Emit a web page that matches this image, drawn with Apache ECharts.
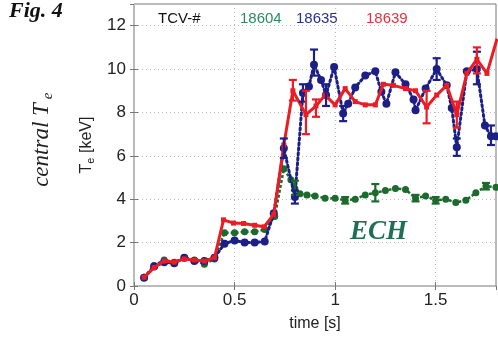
<!DOCTYPE html>
<html><head><meta charset="utf-8">
<script src="https://cdn.jsdelivr.net/npm/echarts@6/dist/echarts.min.js"></script>
<style>html,body{margin:0;padding:0;background:#fff}#c{width:498px;height:337px}</style>
</head><body><div id="c"></div>
<script>
// Shot 18604 (green)
var greenT = [0.05,0.1,0.15,0.2,0.25,0.3,0.35,0.4,0.45,0.5,0.55,0.6,0.65,0.7,0.745,0.78,0.8,0.825,0.86,0.9,0.95,1.0,1.05,1.1,1.15,1.2,1.25,1.3,1.35,1.4,1.45,1.5,1.55,1.6,1.65,1.7,1.75,1.8];
var greenV = [0.4,0.95,1.2,1.1,1.3,1.2,1.0,1.25,2.45,2.45,2.5,2.5,2.6,3.2,5.4,4.9,4.5,4.25,4.2,4.15,4.05,4.05,3.95,4.0,4.2,4.3,4.4,4.5,4.45,4.05,4.15,3.95,4.0,3.85,3.95,4.3,4.6,4.55];
var greenErrT = [0.8,1.05,1.2,1.4,1.5,1.75];
var greenErrLo = [4.2,3.8,3.9,3.9,3.8,4.45];
var greenErrHi = [4.85,4.1,4.7,4.2,4.1,4.75];
// Shot 18635 (blue)
var blueT = [0.05,0.1,0.15,0.2,0.25,0.3,0.35,0.4,0.45,0.5,0.55,0.6,0.65,0.695,0.745,0.8,0.84,0.87,0.895,0.93,0.955,0.995,1.04,1.065,1.1,1.15,1.2,1.23,1.255,1.3,1.35,1.39,1.4,1.45,1.505,1.555,1.58,1.605,1.655,1.705,1.745,1.775,1.8];
var blueV = [0.38,0.9,1.1,1.05,1.3,1.15,1.15,1.3,1.95,2.1,2.0,2.0,2.05,3.35,6.35,4.1,8.9,9.2,10.2,9.5,8.8,10.1,7.95,8.4,9.15,9.7,9.9,8.95,8.4,9.85,9.3,8.6,8.1,9.1,10.0,9.25,8.2,6.4,9.9,10.0,7.4,6.9,6.9];
var blueErrT = [0.745,0.8,0.84,0.895,0.955,1.04,1.505,1.605,1.705,1.775];
var blueErrLo = [5.9,3.8,8.5,9.7,8.3,7.6,9.5,6.0,9.3,6.5];
var blueErrHi = [6.8,4.4,9.3,10.9,9.3,8.3,10.5,6.8,10.8,7.4];
// Shot 18639 (red)
var redT = [0.05,0.1,0.15,0.2,0.25,0.3,0.35,0.4,0.445,0.495,0.545,0.6,0.647,0.695,0.745,0.79,0.855,0.905,0.95,1.0,1.05,1.1,1.15,1.2,1.24,1.29,1.35,1.4,1.455,1.505,1.555,1.605,1.655,1.705,1.755,1.805];
var redV = [0.4,0.85,1.15,1.1,1.25,1.2,1.15,1.3,3.05,2.9,2.88,2.8,2.73,3.3,6.5,9.0,7.9,8.3,8.8,8.35,9.1,8.5,8.35,8.35,9.3,9.25,9.1,9.0,8.25,8.8,9.25,7.9,9.8,10.45,9.8,11.4];
var redErrT = [0.79,0.855,0.905,1.455,1.605,1.705];
var redErrLo = [8.55,7.0,7.8,7.5,7.3,9.8];
var redErrHi = [9.5,9.0,8.6,9.0,8.5,11.0];
var xTicks = [0,0.5,1,1.5];
var yTicks = [0,2,4,6,8,10,12];

var C_GREEN = '#1c6a2c', C_BLUE = '#1b1f86', C_RED = '#ec1c24';
function pairs(t,v){return t.map(function(x,i){return [x,v[i]];});}
function errs(t,lo,hi){return t.map(function(x,i){return [x,lo[i],hi[i]];});}
function errSeries(data,color){
  return {type:'custom', clip:true, z:5, data:data, encode:{x:0,y:[1,2]},
    renderItem:function(params,api){
      var x=api.value(0), p1=api.coord([x,api.value(1)]), p2=api.coord([x,api.value(2)]), w=4;
      var st={stroke:color,lineWidth:2.2};
      return {type:'group',children:[
        {type:'line',shape:{x1:p1[0],y1:p1[1],x2:p2[0],y2:p2[1]},style:st},
        {type:'line',shape:{x1:p1[0]-w,y1:p1[1],x2:p1[0]+w,y2:p1[1]},style:st},
        {type:'line',shape:{x1:p2[0]-w,y1:p2[1],x2:p2[0]+w,y2:p2[1]},style:st}]};
    }};
}
var FONT = '"Liberation Sans", Arial, sans-serif';
var chart = echarts.init(document.getElementById('c'), null, {renderer:'canvas'});
chart.setOption({
  animation:false,
  backgroundColor:'#fff',
  grid:{left:134,top:4,right:2,bottom:47,show:true,borderColor:'#777',borderWidth:1},
  xAxis:[{type:'value',min:0,max:1.8,interval:0.5,
    name:'time [s]',nameLocation:'middle',nameGap:30,
    nameTextStyle:{fontFamily:FONT,fontSize:16,color:'#222'},
    axisLine:{show:false},axisTick:{inside:true,length:4,lineStyle:{color:'#777'}},
    axisLabel:{fontFamily:FONT,fontSize:17,color:'#222',margin:6,showMaxLabel:false,
      formatter:function(v){return xTicks.indexOf(v)>=0?String(v):'';}},
    splitLine:{show:true,lineStyle:{color:'#bbb',type:[1,3]}}},
    {type:'value',min:0,max:1.8,interval:0.5,position:'top',axisLine:{show:false},
     axisTick:{inside:true,length:4,lineStyle:{color:'#777'}},axisLabel:{show:false},splitLine:{show:false}}],
  yAxis:[{type:'value',min:0,max:13,interval:2,
    name:'{a|T}{s|e}{a| [keV]}',nameLocation:'middle',nameGap:27,nameRotate:90,
    nameTextStyle:{rich:{a:{fontFamily:FONT,fontSize:16,color:'#222'},s:{fontFamily:FONT,fontSize:11,color:'#222',verticalAlign:'bottom',padding:[8,0,0,0]}}},
    axisLine:{show:false},axisTick:{inside:true,length:4,lineStyle:{color:'#777'}},
    axisLabel:{fontFamily:FONT,fontSize:17,color:'#222',margin:8,showMaxLabel:false,
      formatter:function(v){return yTicks.indexOf(v)>=0?String(v):'';}},
    splitLine:{show:true,lineStyle:{color:'#bbb',type:[1,3]}}},
    {type:'value',min:0,max:13,interval:2,position:'right',axisLine:{show:false},
     axisTick:{inside:true,length:4,lineStyle:{color:'#777'}},axisLabel:{show:false},splitLine:{show:false}}],
  series:[
    {type:'line',name:'18604',data:pairs(greenT,greenV),symbol:'circle',symbolSize:7,
      lineStyle:{color:C_GREEN,width:2.5,type:[3,2]},itemStyle:{color:C_GREEN},z:2},
    errSeries(errs(greenErrT,greenErrLo,greenErrHi),C_GREEN),
    {type:'line',name:'18635',data:pairs(blueT,blueV),symbol:'circle',symbolSize:8,
      lineStyle:{color:C_BLUE,width:3,type:[2,3],cap:'round'},itemStyle:{color:C_BLUE},z:3},
    errSeries(errs(blueErrT,blueErrLo,blueErrHi),C_BLUE),
    {type:'line',name:'18639',data:pairs(redT,redV),symbol:'rect',symbolSize:5,
      lineStyle:{color:C_RED,width:3},itemStyle:{color:C_RED},z:4},
    errSeries(errs(redErrT,redErrLo,redErrHi),C_RED)
  ],
  graphic:[
    {type:'text',left:9,top:0,style:{text:'Fig. 4',font:'italic bold 22px "Liberation Serif", "DejaVu Serif", serif',fill:'#111'}},
    {type:'text',x:42,y:145,rotation:Math.PI/2,style:{text:'central T',font:'italic 23px "Liberation Serif", serif',fill:'#222',align:'center',verticalAlign:'middle'}},
    {type:'text',style:{text:'e',font:'italic 15px "Liberation Serif", serif',fill:'#222',align:'center',verticalAlign:'middle'},rotation:Math.PI/2,x:48,y:96},
    {type:'text',left:158,top:11,style:{text:'TCV-#',font:'15px '+FONT,fill:'#111'}},
    {type:'text',left:240,top:11,style:{text:'18604',font:'15px '+FONT,fill:'#2a8a60'}},
    {type:'text',left:296,top:11,style:{text:'18635',font:'15px '+FONT,fill:'#2b2f8f'}},
    {type:'text',left:366,top:11,style:{text:'18639',font:'15px '+FONT,fill:'#e8303c'}},
    {type:'text',left:350,top:219,style:{text:'ECH',font:'italic bold 27px "Liberation Serif", serif',fill:'#1f6f55'}}
  ]
});
</script></body></html>
